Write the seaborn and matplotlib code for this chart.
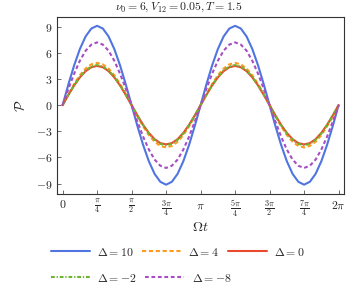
import numpy as np
import pandas as pd
import seaborn as sns
import matplotlib
matplotlib.use('Agg')
import matplotlib.pyplot as plt
from matplotlib.ticker import FixedLocator, FixedFormatter

# Omega t grid, 0 .. 2pi in steps of pi/24
t = np.linspace(0, 2 * np.pi, 49)

p_d10 = [0, 2.36, 4.55, 6.43, 7.88, 8.79, 9.10, 8.79, 7.88, 6.43, 4.55, 2.36,
         0, -2.36, -4.55, -6.43, -7.88, -8.79, -9.12, -8.79, -7.88, -6.43, -4.55, -2.36,
         0, 2.36, 4.55, 6.43, 7.88, 8.79, 9.10, 8.79, 7.88, 6.43, 4.55, 2.36,
         0, -2.36, -4.55, -6.43, -7.88, -8.79, -9.12, -8.79, -7.88, -6.43, -4.55, -2.36, 0]
p_d4 = [0, 1.26, 2.43, 3.43, 4.20, 4.68, 4.85, 4.68, 4.20, 3.43, 2.43, 1.26,
        0, -1.26, -2.43, -3.43, -4.20, -4.68, -4.85, -4.68, -4.20, -3.43, -2.43, -1.26,
        0, 1.26, 2.43, 3.43, 4.20, 4.68, 4.85, 4.68, 4.20, 3.43, 2.43, 1.26,
        0, -1.26, -2.43, -3.43, -4.20, -4.68, -4.85, -4.68, -4.20, -3.43, -2.43, -1.26, 0]
p_d0 = [0, 1.16, 2.25, 3.18, 3.90, 4.35, 4.50, 4.35, 3.90, 3.18, 2.25, 1.16,
        0, -1.16, -2.25, -3.18, -3.90, -4.35, -4.50, -4.35, -3.90, -3.18, -2.25, -1.16,
        0, 1.16, 2.25, 3.18, 3.90, 4.35, 4.50, 4.35, 3.90, 3.18, 2.25, 1.16,
        0, -1.16, -2.25, -3.18, -3.90, -4.35, -4.50, -4.35, -3.90, -3.18, -2.25, -1.16, 0]
p_dm2 = [0, 1.19, 2.30, 3.25, 3.98, 4.44, 4.60, 4.44, 3.98, 3.25, 2.30, 1.19,
         0, -1.19, -2.30, -3.25, -3.98, -4.44, -4.60, -4.44, -3.98, -3.25, -2.30, -1.19,
         0, 1.19, 2.30, 3.25, 3.98, 4.44, 4.60, 4.44, 3.98, 3.25, 2.30, 1.19,
         0, -1.19, -2.30, -3.25, -3.98, -4.44, -4.60, -4.44, -3.98, -3.25, -2.30, -1.19, 0]
p_dm8 = [0, 1.86, 3.60, 5.09, 6.24, 6.95, 7.20, 6.95, 6.24, 5.09, 3.60, 1.86,
         0, -1.86, -3.60, -5.09, -6.24, -6.95, -7.20, -6.95, -6.24, -5.09, -3.60, -1.86,
         0, 1.86, 3.60, 5.09, 6.24, 6.95, 7.20, 6.95, 6.24, 5.09, 3.60, 1.86,
         0, -1.86, -3.60, -5.09, -6.24, -6.95, -7.20, -6.95, -6.24, -5.09, -3.60, -1.86, 0]

xticks = [0, np.pi/4, np.pi/2, 3*np.pi/4, np.pi, 5*np.pi/4, 3*np.pi/2, 7*np.pi/4, 2*np.pi]
xticklabels = [r'$0$', r'$\frac{\pi}{4}$', r'$\frac{\pi}{2}$', r'$\frac{3\pi}{4}$', r'$\pi$',
               r'$\frac{5\pi}{4}$', r'$\frac{3\pi}{2}$', r'$\frac{7\pi}{4}$', r'$2\pi$']
yticks = [-9, -6, -3, 0, 3, 6, 9]

sns.set_style('ticks')
plt.rcParams['mathtext.fontset'] = 'cm'
plt.rcParams['font.family'] = ['DejaVu Serif']

fig = plt.figure(figsize=(3.6, 2.95), dpi=100)
ax = fig.add_axes([0.158, 0.342, 0.798, 0.600])

series = [
    (p_d10, r'$\Delta = 10$', '#5075e0', '-', None),
    (p_d4, r'$\Delta = 4$', '#ff9a1f', '--', (2.0, 1.3)),
    (p_d0, r'$\Delta = 0$', '#e84a2e', '-', None),
    (p_dm2, r'$\Delta = -2$', '#6db52e', '-.', (1.8, 0.9, 0.6, 0.9)),
    (p_dm8, r'$\Delta = -8$', '#a64fc4', '--', (1.8, 1.3)),
]
handles = {}
for vals, lab, col, ls, dash in series:
    df = pd.DataFrame({'t': t, 'P': vals})
    sns.lineplot(data=df, x='t', y='P', ax=ax, color=col, lw=1.5, label=lab, legend=False)
    ln = ax.lines[-1]
    if dash is not None:
        ln.set_dashes(dash)
    handles[lab] = ln

ax.set_xlim(-0.13, 6.41)
ax.set_ylim(-10.2, 10.1)
ax.xaxis.set_major_locator(FixedLocator(xticks))
ax.xaxis.set_major_formatter(FixedFormatter(xticklabels))
ax.set_yticks(yticks)
ax.set_yticklabels([r'$%d$' % v if v >= 0 else r'$-%d$' % abs(v) for v in yticks])
ax.tick_params(direction='in', length=3, width=0.6, color='#555555', labelsize=8.5, pad=3)

for s in ax.spines.values():
    s.set_linewidth(0.8)
    s.set_color('#333333')

ax.set_xlabel(r'$\Omega t$', fontsize=10, labelpad=1)
ax.set_ylabel(r'$\mathcal{P}$', fontsize=10, labelpad=6)
fig.text(0.497, 1 - 7 / 295, r'$\nu_0 = 6, V_{12} = 0.05, T = 1.5$', ha='center', va='center', fontsize=8.5)

# two legend rows, left aligned like the reference
row1 = [r'$\Delta = 10$', r'$\Delta = 4$', r'$\Delta = 0$']
row2 = [r'$\Delta = -2$', r'$\Delta = -8$']
leg_kw = dict(frameon=False, fontsize=8.5, handlelength=3.3, columnspacing=0.75,
              handletextpad=0.6, borderpad=0, borderaxespad=0, loc='center left')
leg1 = fig.legend([handles[k] for k in row1], row1, ncol=3,
                  bbox_to_anchor=(51 / 360, 1 - 252 / 295), **leg_kw)
leg2 = fig.legend([handles[k] for k in row2], row2, ncol=2,
                  bbox_to_anchor=(51 / 360, 1 - 278 / 295), **leg_kw)

fig.savefig('out.png', dpi=100)
